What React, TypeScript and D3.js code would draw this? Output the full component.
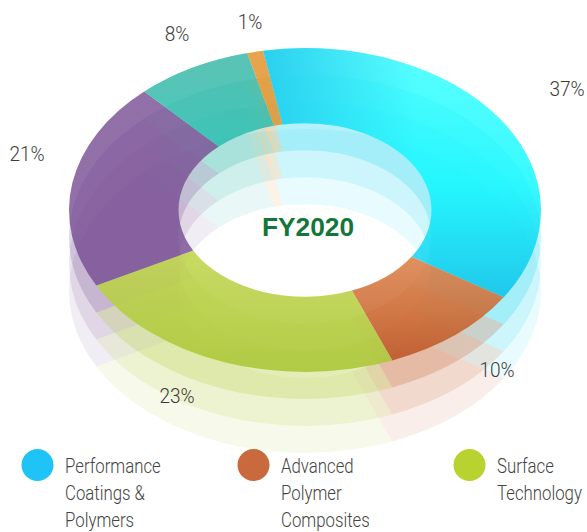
import React from "react";
import * as d3 from "d3";

const shares = [36.9, 9.9, 23.3, 20.8, 8, 1.1];
const labels = ["37%", "10%", "23%", "21%", "8%", "1%"];
const baseColors = ["#22d8f4", "#c45a25", "#afca30", "#764c92", "#2ab8a8", "#e28d1f"];
const gradTop = ["#30ffff", "#dc814a", "#c0d54d", "#764c92", "#31b3a1", "#e28d1f"];
const gradMid = ["#05f8ff", "#cc6a33", "#b4cd40", "#764c92", "#27b8a8", "#e28d1f"];
const gradBottom = ["#00bee7", "#bb5425", "#aac635", "#764c92", "#21bcae", "#e28d1f"];
const topAlpha = [0.8, 0.88, 0.88, 0.8, 0.8, 0.8];
const legendNames = [["Performance", "Coatings &", "Polymers"], ["Advanced", "Polymer", "Composites"], ["Surface", "Technology"]];
const legendColors = ["#1fc3f5", "#c96a3e", "#b8d22f"];
const labelAnchors = [[567, 96], [497, 377], [177, 403], [27, 161], [177, 41], [250, 29]];
const layerOpacity = [0.1, 0.14, 0.23];
const layerOffsets = [3, 2, 1];

const WIDTH = 587, HEIGHT = 532;
const CX = 305, CY = 210, OUTER = 236, INNER = 126.5, SQUASH = 0.686;
const START = (-10.2 * Math.PI) / 180;
const LAYER_STEP = 27;
const textFont = "Roboto, sans-serif";

export default function App() {
  const pie = d3.pie<number>().sort(null).startAngle(START).endAngle(START + 2 * Math.PI);
  const arc = d3.arc<d3.PieArcDatum<number>>().innerRadius(INNER).outerRadius(OUTER);
  const slices = pie(shares);
  return (
    <svg width={WIDTH} height={HEIGHT} style={{ position: "absolute", left: 0, top: 0 }}>
      <defs>
        {shares.map((_, i) => (
          <linearGradient key={i} id={`g${i}`} x1="0" y1="0" x2="0" y2="1">
            <stop offset="0" stopColor={gradTop[i]} />
            <stop offset="0.55" stopColor={gradMid[i]} />
            <stop offset="1" stopColor={gradBottom[i]} />
          </linearGradient>
        ))}
        <linearGradient id="cyanShade" x1="0" y1="0" x2="1" y2="0">
          <stop offset="0" stopColor="#28cdee" stopOpacity={0.95} />
          <stop offset="0.55" stopColor="#28cdee" stopOpacity={0} />
        </linearGradient>
      </defs>
      {layerOffsets.map((k, n) => (
        <g key={k} transform={`translate(${CX},${CY + k * LAYER_STEP}) scale(1,${SQUASH})`}>
          {slices.map((s, i) => (
            <path key={i} d={arc(s) as string} fill={baseColors[i]} fillOpacity={layerOpacity[n]} />
          ))}
        </g>
      ))}
      <g transform={`translate(${CX},${CY}) scale(1,${SQUASH})`}>
        {slices.map((s, i) => (
          <path key={i} d={arc(s) as string} fill={`url(#g${i})`} fillOpacity={topAlpha[i]} />
        ))}
        <path d={arc(slices[0]) as string} fill="url(#cyanShade)" />
      </g>
      <text x={308} y={236} textAnchor="middle" fontFamily="'Liberation Sans', Arial, sans-serif" fontWeight={700} fontSize={26.3} fill="#14773a">
        FY2020
      </text>
      {labels.map((t, i) => (
        <text key={t} transform={`translate(${labelAnchors[i][0]},${labelAnchors[i][1]}) scale(0.93,1)`} textAnchor="middle" fontFamily={textFont} fontWeight={300} fontSize={20.5} fill="#3c3c3c">
          {t}
        </text>
      ))}
      {legendNames.map((lines, i) => (
        <g key={i} transform={`translate(${i * 216},0)`}>
          <circle cx={37.5} cy={465} r={16} fill={legendColors[i]} />
          {lines.map((l, j) => (
            <text key={l} transform={`translate(65,${472.5 + j * 27}) scale(0.84,1)`} fontFamily={textFont} fontWeight={300} fontSize={20} fill="#444">
              {l}
            </text>
          ))}
        </g>
      ))}
    </svg>
  );
}
